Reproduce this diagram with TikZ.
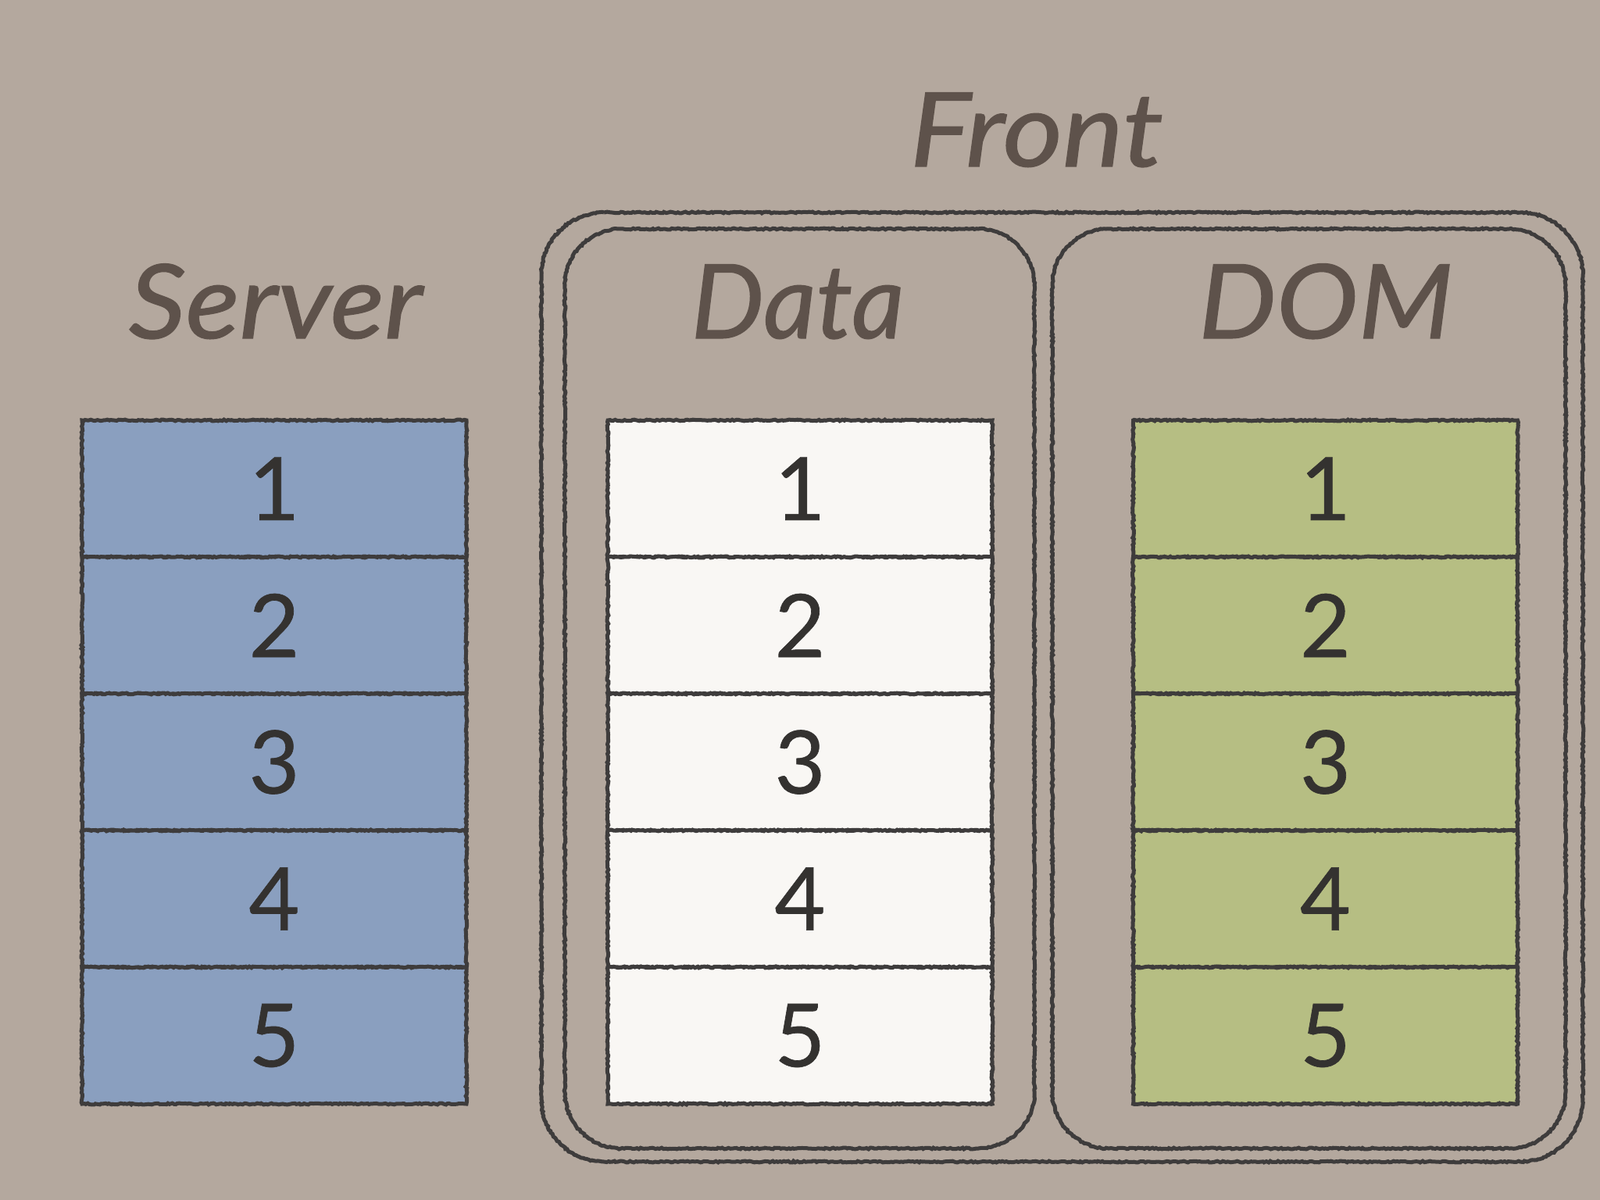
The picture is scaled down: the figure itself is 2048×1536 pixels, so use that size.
\documentclass[tikz,border=0pt]{standalone}
\usepackage{fontspec}
\setmainfont{Lato}
\newfontfamily\titlefont{Lato}[FakeBold=0.9]
\newfontfamily\digitfont{Lato}[FakeBold=0.6]
\usetikzlibrary{decorations.pathmorphing}
\definecolor{bg}{RGB}{180,168,158}
\definecolor{servfill}{RGB}{138,159,191}
\definecolor{datafill}{RGB}{249,247,244}
\definecolor{domfill}{RGB}{182,190,131}
\definecolor{ink}{RGB}{62,60,60}
\definecolor{titlecol}{RGB}{94,82,75}
\definecolor{digitcol}{RGB}{52,50,48}
\tikzset{
  rough/.style={decorate, decoration={random steps, segment length=2.5pt, amplitude=0.9pt}},
  cell/.style={draw=ink, line width=5pt, rough, minimum width=492pt, minimum height=175pt,
    inner sep=0pt, outer sep=0pt, text=digitcol, font=\digitfont\fontsize{112}{112}\selectfont},
  servcell/.style={cell, fill=servfill},
  datacell/.style={cell, fill=datafill},
  domcell/.style={cell, fill=domfill},
  frame/.style={inner sep=0pt, outer sep=0pt},
  frameline/.style={draw=ink, line width=5pt, rough},
  title/.style={text=titlecol, font=\titlefont\fontsize{132}{132}\selectfont\itshape, anchor=base, inner sep=0pt}
}
\newcommand\roundframe[2]{%
  \draw[frameline] ([xshift=#2]#1.north west) -- ([xshift=-#2]#1.north east)
    arc[start angle=90,end angle=0,radius=#2] -- ([yshift=#2]#1.south east)
    arc[start angle=0,end angle=-90,radius=#2] -- ([xshift=#2]#1.south west)
    arc[start angle=-90,end angle=-180,radius=#2] -- ([yshift=-#2]#1.north west)
    arc[start angle=180,end angle=90,radius=#2] -- cycle;}
\begin{document}
\begin{tikzpicture}[x=1pt,y=-1pt]
\useasboundingbox (0,0) rectangle (2048,1536);
\fill[bg] (0,0) rectangle (2048,1536);
% frames
\node[frame, minimum width=1333pt, minimum height=1215pt] (front) at (1359.5,879.5) {};
\node[frame, minimum width=601pt, minimum height=1177pt] (dataframe) at (1023.5,881.5) {};
\node[frame, minimum width=657pt, minimum height=1177pt] (domframe) at (1675.5,881.5) {};
\roundframe{front}{80pt}
\roundframe{dataframe}{72pt}
\roundframe{domframe}{72pt}
% titles
\node[title, xscale=1.115] (tfront) at (1327,213) {Front};
\node[title, xscale=1.09] (tserver) at (353,433) {Server};
\node[title] (tdata) at (1021,433) {Data};
\node[title, xscale=1.066] (tdom) at (1697,433) {DOM};
% cells
\foreach \i/\y in {1/625.5,2/800.5,3/975.5,4/1150.5,5/1325.5}{
  \node[servcell] (s\i) at (351,\y) {\i};
  \node[datacell] (d\i) at (1024,\y) {\i};
  \node[domcell] (m\i) at (1696.5,\y) {\i};
}
\end{tikzpicture}
\end{document}
